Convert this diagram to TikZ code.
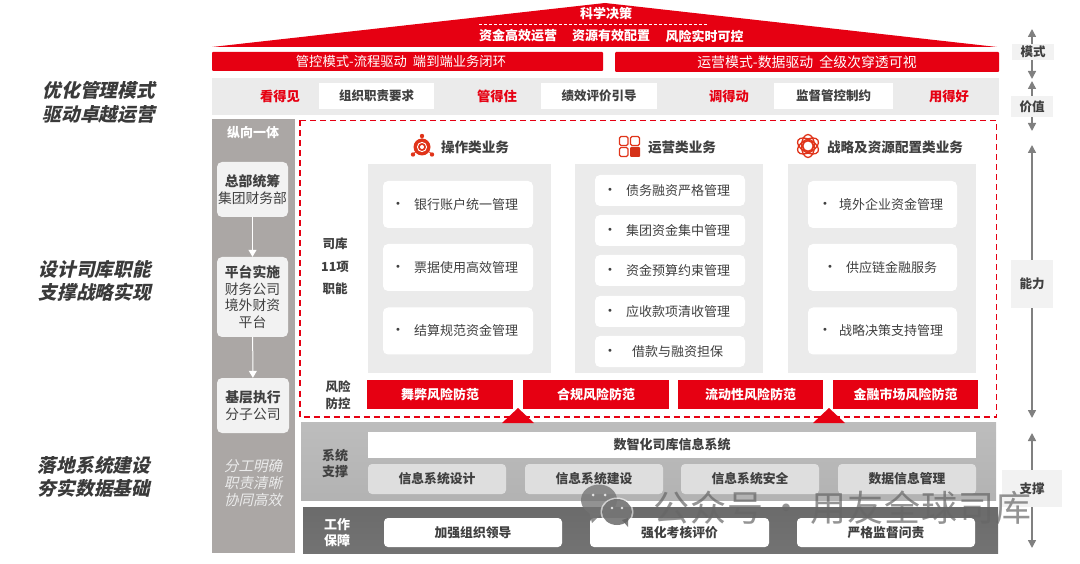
\documentclass[tikz,border=0pt]{standalone}
\usepackage{fontspec}
\setmainfont{Noto Sans CJK SC}
\newfontfamily\slantfont[FakeSlant=0.22]{Noto Sans CJK SC}
\newfontfamily\dotfont{DejaVu Sans}
\usetikzlibrary{arrows.meta}
\definecolor{cred}{HTML}{E60012}
\definecolor{ctxt}{HTML}{404040}
\definecolor{cband}{HTML}{EBEBEB}
\definecolor{ccol}{HTML}{ABA7A5}
\definecolor{cbox}{HTML}{F2F2F2}
\definecolor{cicon}{HTML}{E0341A}
\definecolor{carrow}{HTML}{808080}
\newcommand{\fs}[1]{\fontsize{#1}{#1}\selectfont}
\tikzset{
  x=1pt,y=-1pt,
  lbl/.style={inner sep=0pt,text=ctxt,font=\fs{13}\bfseries},
  whitebox/.style={lbl,fill=white,font=\fs{12.5}\bfseries},
  itembox/.style={fill=white,rounded corners=5pt,inner sep=0pt},
  itemtxt/.style={inner sep=0pt,anchor=west,text=ctxt,font=\fs{13}},
  bulletdot/.style={inner sep=0pt,text=ctxt,font=\fs{10}\dotfont},
  redbar/.style={fill=cred,inner sep=0pt,text=white,font=\fs{13}\bfseries},
  modebar/.style={fill=cred,inner sep=0pt,text=white,font=\fs{13.3},rounded corners=1pt},
  redword/.style={inner sep=0pt,text=cred,font=\fs{13.3}\bfseries},
  panel/.style={fill=cband,inner sep=0pt},
  lvlbox/.style={fill=cbox,rounded corners=5pt,inner sep=0pt,align=center,text=ctxt,font=\fs{13.8}},
  sysbox/.style={fill=black!13,rounded corners=4pt,inner sep=0pt,text=ctxt,font=\fs{12.8}\bfseries},
  workbox/.style={fill=white,rounded corners=4pt,inner sep=0pt,text=ctxt,font=\fs{12.8}\bfseries},
  sidetag/.style={fill=cbox,inner sep=0pt,text=ctxt,font=\fs{12.5}\bfseries},
  bigtag/.style={inner sep=0pt,text=ctxt!90!black,font=\fs{18.7}\slantfont\bfseries,align=center},
  dbl/.style={{Triangle[length=8pt,width=8pt]}-{Triangle[length=8pt,width=8pt]},carrow,line width=1.5pt},
  downarrow/.style={-{Triangle[length=7pt,width=8pt]},white,line width=1pt},
}
\begin{document}
\begin{tikzpicture}
\useasboundingbox (0,0) rectangle (1080,564);
% roof
\fill[cred] (212,47) -- (605,3) -- (997,47) -- cycle;
\node[inner sep=0pt,text=white,font=\fs{13}\bfseries] (roofT) at (606,14) {科学决策};
\coordinate (dashL) at (479,24); \coordinate (dashR) at (708,24);
\draw[white,line width=.6pt,dash pattern=on 3pt off 2pt] (dashL) -- (dashR);
\node[inner sep=0pt,text=white,font=\fs{13}\bfseries] (roofA) at (518,36) {资金高效运营};
\node[inner sep=0pt,text=white,font=\fs{13}\bfseries] (roofB) at (611,36) {资源有效配置};
\node[inner sep=0pt,text=white,font=\fs{13}\bfseries] (roofC) at (704.5,36) {风险实时可控};
% mode bars
\node[modebar,minimum width=391pt,minimum height=19pt] (modeL) at (407.5,61.5) {\hspace{-13pt}管控模式-流程驱动\hspace{6pt}端到端业务闭环};
\node[modebar,font=\fs{13.9},minimum width=384pt,minimum height=20pt] (modeR) at (807,62) {运营模式-数据驱动\hspace{6pt}全级次穿透可视};
% value band
\node[panel,minimum width=787pt,minimum height=37pt] (valband) at (605.5,96.5) {};
\node[redword] (v1) at (280,96) {看得见};
\node[whitebox,minimum width=115pt,minimum height=26pt] (vb1) at (376.5,96) {组织职责要求};
\node[redword] (v2) at (497,96) {管得住};
\node[whitebox,minimum width=116pt,minimum height=26pt] (vb2) at (599,96) {绩效评价引导};
\node[redword] (v3) at (729,96) {调得动};
\node[whitebox,minimum width=119pt,minimum height=26pt] (vb3) at (833.5,96) {监督管控制约};
\node[redword] (v4) at (949,96) {用得好};
% left column
\node[fill=ccol,inner sep=0pt,minimum width=83pt,minimum height=434pt] (leftcol) at (253.5,336) {};
\node[inner sep=0pt,text=white,font=\fs{13}\bfseries] (colT) at (253,133) {纵向一体};
\node[lvlbox,minimum width=71pt,minimum height=55pt] (lv1) at (252.5,189.5) {\raisebox{-2pt}{\textbf{总部统筹}}\\[3pt]\raisebox{-2pt}{集团财务部}};
\node[lvlbox,minimum width=71pt,minimum height=80pt] (lv2) at (252.5,297) {\raisebox{-1pt}{\textbf{平台实施}}\\[3pt]\raisebox{-1pt}{财务公司}\\[3pt]\raisebox{-1pt}{境外财资}\\[3pt]\raisebox{-1pt}{平台}};
\node[lvlbox,minimum width=72pt,minimum height=55pt] (lv3) at (253,405.5) {\textbf{基层执行}\\[3pt]分子公司};
\draw[downarrow] (lv1) -- (lv2);
\draw[downarrow] (lv2) -- (lv3);
\node[inner sep=0pt,align=center,text=white!92!black,font=\fs{14.5}\slantfont] (colB) at (253,483) {分工明确\\[2.5pt]职责清晰\\[2.5pt]协同高效};
% dashed frame
\draw[cred,line width=1.3pt,dash pattern=on 6pt off 4pt] (300,120.5) rectangle (996.5,417);
% headers
\node[inner sep=0pt,text=ctxt,font=\fs{13.6}\bfseries] (h1) at (475,147) {操作类业务};
\node[inner sep=0pt,text=ctxt,font=\fs{13.6}\bfseries] (h2) at (682,147) {运营类业务};
\node[inner sep=0pt,text=ctxt,font=\fs{13.6}\bfseries] (h3) at (895,147) {战略及资源配置类业务};
% icon 1
\draw[cicon,line width=.8pt] (422,136) -- (422,147) (413,154) -- (422,147) -- (432,154);
\fill[cicon] (422,147) circle (8.5);
\draw[white,line width=.9pt] (422,147) circle (4.6);
\fill[white] (422,147) circle (2);
\fill[cicon] (422,136) circle (2.2) (413,154.5) circle (2.2) (432,154.5) circle (2.2);
% icon 2
\draw[cicon,line width=1.2pt,rounded corners=1.5pt] (619.5,136.5) rectangle (628,145.5);
\draw[cicon,line width=1.2pt,rounded corners=1.5pt] (630.5,136.5) rectangle (639.5,145.5);
\draw[cicon,line width=1.2pt,rounded corners=1.5pt] (619.5,147.5) rectangle (628,156.5);
\fill[cicon!95!black,rounded corners=1pt] (630,147) rectangle (640,157);
% icon 3
\draw[cicon,line width=1.3pt] (808,146) ellipse [x radius=11.5,y radius=6.5,rotate=30];
\draw[cicon,line width=1.3pt] (808,146) ellipse [x radius=11.5,y radius=6.5,rotate=90];
\draw[cicon,line width=1.3pt] (808,146) ellipse [x radius=11.5,y radius=6.5,rotate=150];
\fill[white] (808,146) circle (5);
\draw[cicon,line width=1.8pt] (808,146) circle (5.5);
% panels
\node[panel,minimum width=183pt,minimum height=209pt] (p1) at (459.5,268.5) {};
\node[panel,minimum width=188pt,minimum height=209pt] (p2) at (669,268.5) {};
\node[panel,minimum width=188pt,minimum height=209pt] (p3) at (882,268.5) {};
% col 1
\node[itembox,minimum width=150pt,minimum height=47pt] (a1) at (458,204.5) {};
\node[itembox,minimum width=150pt,minimum height=47pt] (a2) at (458,267.5) {};
\node[itembox,minimum width=150pt,minimum height=47pt] (a3) at (458,331) {};
\node[bulletdot] (a1d) at (398,204.5) {•}; \node[itemtxt] (a1t) at (414,204.5) {银行账户统一管理};
\node[bulletdot] (a2d) at (398,267.5) {•}; \node[itemtxt] (a2t) at (414,267.5) {票据使用高效管理};
\node[bulletdot] (a3d) at (398,331) {•}; \node[itemtxt] (a3t) at (414,331) {结算规范资金管理};
% col 2
\node[itembox,minimum width=150pt,minimum height=31pt] (b1) at (670,190.5) {};
\node[itembox,minimum width=150pt,minimum height=31pt] (b2) at (670,230.5) {};
\node[itembox,minimum width=150pt,minimum height=31pt] (b3) at (670,270.5) {};
\node[itembox,minimum width=150pt,minimum height=31pt] (b4) at (670,311.5) {};
\node[itembox,minimum width=150pt,minimum height=31pt] (b5) at (670,351.5) {};
\node[bulletdot] (b1d) at (610,190.5) {•}; \node[itemtxt] (b1t) at (626,190.5) {债务融资严格管理};
\node[bulletdot] (b2d) at (610,230.5) {•}; \node[itemtxt] (b2t) at (626,230.5) {集团资金集中管理};
\node[bulletdot] (b3d) at (610,270.5) {•}; \node[itemtxt] (b3t) at (626,270.5) {资金预算约束管理};
\node[bulletdot] (b4d) at (610,311.5) {•}; \node[itemtxt] (b4t) at (626,311.5) {应收款项清收管理};
\node[bulletdot] (b5d) at (610,351.5) {•}; \node[itemtxt] (b5t) at (632,351.5) {借款与融资担保};
% col 3
\node[itembox,minimum width=149pt,minimum height=47pt] (c1) at (882.5,204.5) {};
\node[itembox,minimum width=149pt,minimum height=47pt] (c2) at (882.5,267.5) {};
\node[itembox,minimum width=149pt,minimum height=47pt] (c3) at (882.5,331) {};
\node[bulletdot] (c1d) at (825,204.5) {•}; \node[itemtxt] (c1t) at (839,204.5) {境外企业资金管理};
\node[bulletdot] (c2d) at (830,267.5) {•}; \node[itemtxt] (c2t) at (846,267.5) {供应链金融服务};
\node[bulletdot] (c3d) at (825,331) {•}; \node[itemtxt] (c3t) at (839,331) {战略决策支持管理};
% left labels inside
\node[lbl,align=center,font=\fs{12.5}\bfseries] (si) at (335,266.5) {司库\\[10pt]11项\\[10pt]职能};
\node[lbl,align=center,font=\fs{12.5}\bfseries] (fx) at (338,395) {风险\\[4pt]防控};
% risk bars
\node[redbar,minimum width=146pt,minimum height=29pt] (r1) at (440,394.5) {舞弊风险防范};
\node[redbar,minimum width=146pt,minimum height=29pt] (r2) at (596,394.5) {合规风险防范};
\node[redbar,minimum width=145pt,minimum height=29pt] (r3) at (750.5,394.5) {流动性风险防范};
\node[redbar,minimum width=145pt,minimum height=29pt] (r4) at (905.5,394.5) {金融市场风险防范};
% system panel
\node[inner sep=0pt,minimum width=695pt,minimum height=78pt,top color=black!26,bottom color=black!30] (sys) at (648.5,461) {};
\fill[cred] (518,408) -- (534,423) -- (502,423) -- cycle;
\fill[cred] (829,408) -- (845,423) -- (813,423) -- cycle;
\node[lbl,align=center,font=\fs{13}\bfseries] (syst) at (335,463.5) {系统\\[3pt]支撑};
\node[inner sep=0pt,fill=white,text=ctxt,font=\fs{13}\bfseries,minimum width=608pt,minimum height=26pt] (sysbar) at (672,445) {数智化司库信息系统};
\node[sysbox,minimum width=138pt,minimum height=30pt] (s1) at (437,479) {信息系统设计};
\node[sysbox,minimum width=138pt,minimum height=30pt] (s2) at (594,479) {信息系统建设};
\node[sysbox,minimum width=138pt,minimum height=30pt] (s3) at (750,479) {信息系统安全};
\node[sysbox,minimum width=138pt,minimum height=30pt] (s4) at (907,479) {数据信息管理};
% work panel
\node[inner sep=0pt,minimum width=695pt,minimum height=46pt,top color=black!58,bottom color=black!55] (work) at (650.5,530) {};
\node[inner sep=0pt,align=center,text=white,font=\fs{13}\bfseries] (workt) at (337,532.5) {工作\\[3pt]保障};
\node[workbox,minimum width=178pt,minimum height=29pt] (w1) at (473,532.5) {加强组织领导};
\node[workbox,minimum width=179pt,minimum height=29pt] (w2) at (679.5,532.5) {强化考核评价};
\node[workbox,minimum width=178pt,minimum height=29pt] (w3) at (886,532.5) {严格监督问责};
% right axis
\coordinate (m1) at (1032,29); \coordinate (m2) at (1032,79);
\coordinate (j1) at (1032,81); \coordinate (j2) at (1032,131);
\coordinate (n1) at (1032,145); \coordinate (n2) at (1032,418);
\coordinate (z1) at (1032,433); \coordinate (z2) at (1032,548);
\draw[dbl] (m1) -- (m2);
\draw[dbl] (j1) -- (j2);
\draw[dbl] (n1) -- (n2);
\draw[dbl] (z1) -- (z2);
\node[sidetag,minimum width=42pt,minimum height=16pt] (tagM) at (1033,52) {模式};
\node[sidetag,minimum width=42pt,minimum height=21pt] (tagJ) at (1032,106.5) {价值};
\node[sidetag,minimum width=42pt,minimum height=48pt] (tagN) at (1032,284) {能力};
\node[sidetag,minimum width=60pt,minimum height=37pt] (tagZ) at (1032,488.5) {支撑};
% outer labels
\node[bigtag] (o1) at (99,102.5) {优化管理模式\\[4.5pt]驱动卓越运营};
\node[bigtag] (o2) at (95,281) {设计司库职能\\[4.5pt]支撑战略实现};
\node[bigtag] (o3) at (94,477) {落地系统建设\\[4.5pt]夯实数据基础};
% watermark
\begin{scope}[opacity=.78]
\fill[black!55] (599,500) ellipse [x radius=18,y radius=15.5];
\fill[black!55] (589,512) -- (592,523) -- (601,514) -- cycle;
\fill[white] (593,495) circle (1.5) (605,495) circle (1.5);
\end{scope}
\fill[white,opacity=.6] (617,512) ellipse [x radius=16.5,y radius=14.5];
\begin{scope}[opacity=.8]
\fill[black!62] (617,512) ellipse [x radius=15,y radius=13];
\fill[black!62] (622,520) -- (628,527) -- (628,518) -- cycle;
\fill[white] (612,508) circle (1.3) (622,508) circle (1.3);
\end{scope}
\node[inner sep=0pt,anchor=west,text=black!60,text opacity=.7,font=\fs{36}] (wm) at (653,508) {公\hspace{1pt}众\hspace{1pt}号\hspace{5.5pt}·\hspace{5.5pt}用\hspace{1pt}友\hspace{1pt}全\hspace{1pt}球\hspace{1pt}司\hspace{1pt}库};
\end{tikzpicture}
\end{document}
